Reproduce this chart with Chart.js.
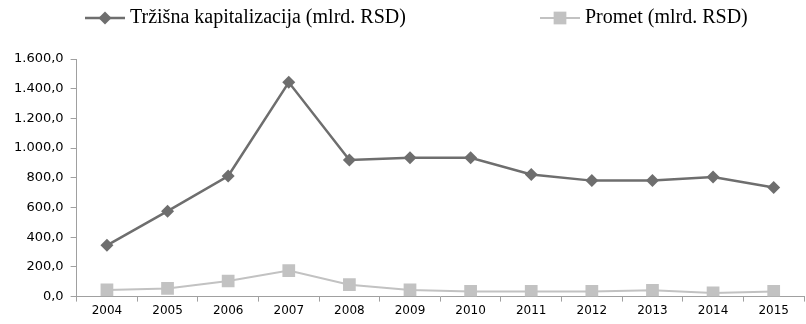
<!DOCTYPE html>
<html>
<head>
<meta charset="utf-8">
<script src="https://cdn.jsdelivr.net/npm/chart.js@4.4.0/dist/chart.umd.min.js"></script>
<style>
  html, body { margin: 0; padding: 0; background: #fff; overflow: hidden; }
  canvas { display: block; }
</style>
</head>
<body>
<canvas id="chart" width="806" height="324"></canvas>
<script>
const years = ['2004', '2005', '2006', '2007', '2008', '2009', '2010', '2011', '2012', '2013', '2014', '2015'];
const kapitalizacija = [345, 575, 812, 1443, 920, 935, 935, 822, 781, 781, 806, 734];
const promet = [45, 55, 105, 175, 80, 45, 35, 35, 35, 42, 25, 35];
const seriesNames = ['Tržišna kapitalizacija (mlrd. RSD)', 'Promet (mlrd. RSD)'];

// number like 1.600,0
function fmt(v) {
  let s = Math.round(v).toString().replace(/\B(?=(\d{3})+(?!\d))/g, '.');
  return s + ',0';
}

// legend with line + marker, like excel
const lineLegend = {
  id: 'lineLegend',
  afterDraw(chart) {
    const ctx = chart.ctx;
    const starts = [85, 540];
    const y = 18;
    chart.data.datasets.forEach((ds, i) => {
      const x = starts[i];
      ctx.save();
      ctx.strokeStyle = ds.borderColor;
      ctx.lineWidth = ds.borderWidth;
      ctx.beginPath();
      ctx.moveTo(x, y);
      ctx.lineTo(x + 40, y);
      ctx.stroke();
      ctx.fillStyle = ds.pointBackgroundColor;
      ctx.beginPath();
      if (ds.pointStyle === 'rectRot') {
        const r = ds.pointRadius;
        ctx.moveTo(x + 20, y - r);
        ctx.lineTo(x + 20 + r, y);
        ctx.lineTo(x + 20, y + r);
        ctx.lineTo(x + 20 - r, y);
        ctx.closePath();
      } else {
        const h = ds.pointRadius * Math.SQRT1_2;
        ctx.rect(x + 20 - h, y - h, 2 * h, 2 * h);
      }
      ctx.fill();
      ctx.fillStyle = '#000';
      ctx.font = '20px "Liberation Serif"';
      ctx.textBaseline = 'middle';
      ctx.fillText(ds.label, x + 45, y);
      ctx.restore();
    });
  }
};

new Chart(document.getElementById('chart'), {
  type: 'line',
  data: {
    labels: years,
    datasets: [
      {
        label: seriesNames[0],
        data: kapitalizacija,
        borderColor: '#6e6e6e',
        backgroundColor: '#6e6e6e',
        pointBackgroundColor: '#6e6e6e',
        pointBorderColor: '#6e6e6e',
        borderWidth: 2.5,
        pointStyle: 'rectRot',
        pointRadius: 6.5,
        pointBorderWidth: 0,
        tension: 0
      },
      {
        label: seriesNames[1],
        data: promet,
        borderColor: '#c2c2c2',
        backgroundColor: '#c2c2c2',
        pointBackgroundColor: '#c2c2c2',
        pointBorderColor: '#c2c2c2',
        borderWidth: 2,
        pointStyle: 'rect',
        pointRadius: 9,
        pointBorderWidth: 0,
        tension: 0
      }
    ]
  },
  options: {
    responsive: false,
    animation: false,
    layout: { autoPadding: false, padding: { top: 59, right: 2, left: 7, bottom: 4 } },
    plugins: {
      legend: { display: false },
      tooltip: { enabled: false }
    },
    scales: {
      x: {
        offset: true,
        grid: { offset: true, drawOnChartArea: false, drawTicks: true, tickLength: 5, color: '#a0a0a0' },
        border: { color: '#a0a0a0', width: 1 },
        ticks: { color: '#000', font: { family: 'DejaVu Sans', size: 12 }, padding: 2, maxRotation: 0 }
      },
      y: {
        min: 0,
        max: 1600,
        grid: { drawOnChartArea: false, tickLength: 6, color: '#a0a0a0' },
        border: { color: '#a0a0a0', width: 1 },
        ticks: { stepSize: 200, color: '#000', font: { family: 'DejaVu Sans', size: 13 }, padding: 7, callback: v => fmt(v) }
      }
    }
  },
  plugins: [lineLegend]
});
</script>
</body>
</html>
